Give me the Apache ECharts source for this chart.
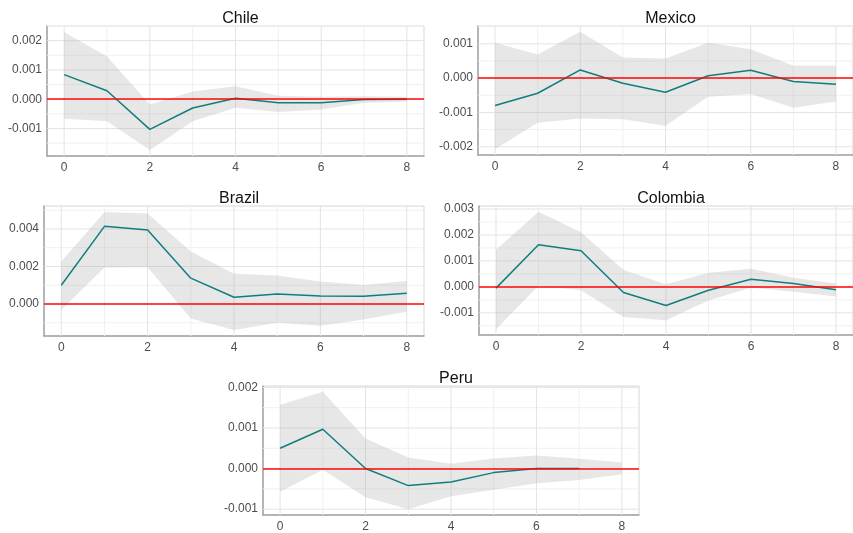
<!DOCTYPE html>
<html>
<head>
<meta charset="utf-8">
<script src="https://cdn.jsdelivr.net/npm/echarts@6/dist/echarts.min.js"></script>
<style>
  html, body { margin: 0; padding: 0; background: #ffffff; }
  #chart { width: 853px; height: 533px; }
</style>
</head>
<body>
<div id="chart"></div>
<script>
// Impulse responses by horizon with confidence bands
const horizons = [0, 1, 2, 3, 4, 5, 6, 7, 8];
const xTicks = [0, 2, 4, 6, 8];

const chileIrf   = [0.00084, 0.00029, -0.00103, -0.00030, 0.00003, -0.00012, -0.00012, -0.00001, 0.00000];
const chileUpper = [0.00230, 0.00146, -0.00018, 0.00026, 0.00044, 0.00012, 0.00008, 0.00010, 0.00008];
const chileLower = [-0.00067, -0.00075, -0.00174, -0.00075, -0.00029, -0.00044, -0.00035, -0.00012, -0.00009];
const chileTicks = [-0.001, 0.000, 0.001, 0.002];

const mexicoIrf   = [-0.00080, -0.00044, 0.00024, -0.00015, -0.00041, 0.00007, 0.00023, -0.00010, -0.00018];
const mexicoUpper = [0.00103, 0.00069, 0.00135, 0.00060, 0.00057, 0.00103, 0.00084, 0.00036, 0.00036];
const mexicoLower = [-0.00207, -0.00130, -0.00118, -0.00120, -0.00139, -0.00054, -0.00046, -0.00086, -0.00068];
const mexicoTicks = [-0.002, -0.001, 0.000, 0.001];

const brazilIrf   = [0.00100, 0.00414, 0.00395, 0.00138, 0.00036, 0.00054, 0.00043, 0.00041, 0.00057];
const brazilUpper = [0.00227, 0.00491, 0.00482, 0.00280, 0.00161, 0.00152, 0.00120, 0.00102, 0.00123];
const brazilLower = [-0.00032, 0.00195, 0.00196, -0.00077, -0.00139, -0.00100, -0.00116, -0.00082, -0.00041];
const brazilTicks = [0.000, 0.002, 0.004];

const colombiaIrf   = [-0.00005, 0.00162, 0.00139, -0.00022, -0.00072, -0.00013, 0.00029, 0.00013, -0.00011];
const colombiaUpper = [0.00143, 0.00289, 0.00210, 0.00065, 0.00010, 0.00054, 0.00070, 0.00035, 0.00013];
const colombiaLower = [-0.00163, 0.00004, -0.00013, -0.00116, -0.00129, -0.00053, -0.00003, -0.00019, -0.00037];
const colombiaTicks = [-0.001, 0.000, 0.001, 0.002, 0.003];

const peruIrf   = [0.00050, 0.00097, 0.00000, -0.00042, -0.00033, -0.00010, 0.00000, 0.00000, null];
const peruUpper = [0.00157, 0.00189, 0.00074, 0.00027, 0.00012, 0.00025, 0.00032, 0.00024, 0.00015];
const peruLower = [-0.00057, -0.00003, -0.00071, -0.00100, -0.00068, -0.00052, -0.00036, -0.00028, -0.00014];
const peruTicks = [-0.001, 0.000, 0.001, 0.002];

const panels = [
  { name: 'Chile',    irf: chileIrf,    upper: chileUpper,    lower: chileLower,    yTicks: chileTicks },
  { name: 'Mexico',   irf: mexicoIrf,   upper: mexicoUpper,   lower: mexicoLower,   yTicks: mexicoTicks },
  { name: 'Brazil',   irf: brazilIrf,   upper: brazilUpper,   lower: brazilLower,   yTicks: brazilTicks },
  { name: 'Colombia', irf: colombiaIrf, upper: colombiaUpper, lower: colombiaLower, yTicks: colombiaTicks },
  { name: 'Peru',     irf: peruIrf,     upper: peruUpper,     lower: peruLower,     yTicks: peruTicks }
];

// panel placement on the page
const boxes = [
  { left: 47,  top: 26,  width: 377, height: 130 },
  { left: 478, top: 26,  width: 375, height: 129 },
  { left: 44,  top: 206, width: 380, height: 130 },
  { left: 479, top: 206, width: 374, height: 129 },
  { left: 263, top: 386, width: 376, height: 129 }
];

const FONT = "'Liberation Sans', Arial, sans-serif";
const LINE = '#127d7d';
const BAND = 'rgba(175,175,175,0.3)';
const ZERO = 'rgba(255,0,0,0.72)';
const MAJOR = '#e3e3e3';
const MINOR = '#f0f0f0';

const option = {
  animation: false,
  backgroundColor: '#ffffff',
  title: [], grid: [], xAxis: [], yAxis: [], series: []
};

panels.forEach((p, i) => {
  const b = boxes[i];
  // y range: band extent padded by 5% on both sides
  const vals = p.irf.filter(v => v !== null);
  const hi = Math.max(...p.upper, ...vals);
  const lo = Math.min(...p.lower, ...vals);
  const pad = (hi - lo) * 0.05;
  const yMin = lo - pad, yMax = hi + pad;
  const xMin = -0.4, xMax = 8.4;

  // minor grid positions halfway between major ticks
  const step = p.yTicks[1] - p.yTicks[0];
  const yMinor = [];
  for (let k = -1; k < p.yTicks.length; k++) {
    const v = p.yTicks[0] + (k + 0.5) * step;
    if (v > yMin && v < yMax) yMinor.push(v);
  }
  const xMinor = [1, 3, 5, 7];

  option.title.push({
    text: p.name,
    left: b.left + b.width / 2,
    top: b.top - 20,
    textAlign: 'center',
    textStyle: { fontFamily: FONT, fontSize: 16, fontWeight: 'normal', color: '#111111' }
  });

  option.grid.push({
    left: b.left, top: b.top, width: b.width, height: b.height,
    show: true, borderColor: '#d6d6d6', borderWidth: 1, backgroundColor: 'transparent'
  });

  option.xAxis.push({
    type: 'value', gridIndex: i, min: xMin, max: xMax,
    axisLine: { show: true, onZero: false, lineStyle: { color: '#a3a3a3', width: 1.5 } },
    axisTick: { show: false },
    splitLine: { show: false },
    axisLabel: {
      customValues: xTicks, margin: 6,
      fontFamily: FONT, fontSize: 12, color: '#4d4d4d',
      formatter: v => String(v)
    }
  });

  option.yAxis.push({
    type: 'value', gridIndex: i, min: yMin, max: yMax,
    axisLine: { show: true, onZero: false, lineStyle: { color: '#a3a3a3', width: 1.5 } },
    axisTick: { show: false },
    splitLine: { show: false },
    axisLabel: {
      customValues: p.yTicks, margin: 5,
      fontFamily: FONT, fontSize: 12, color: '#4d4d4d',
      formatter: v => v.toFixed(3)
    }
  });

  // panel grid lines: each item is [x, y, horizontal?, major?]
  const gridItems = []
    .concat(yMinor.map(v => [0, v, 1, 0]))
    .concat(xMinor.map(v => [v, 0, 0, 0]))
    .concat(p.yTicks.map(v => [0, v, 1, 1]))
    .concat(xTicks.map(v => [v, 0, 0, 1]));
  option.series.push({
    type: 'custom', xAxisIndex: i, yAxisIndex: i, z: 1, silent: true,
    data: gridItems,
    encode: { x: 0, y: 1 },
    clip: false,
    renderItem: (params, api) => {
      const cs = params.coordSys;
      const pt = api.coord([api.value(0), api.value(1)]);
      const horizontal = api.value(2) === 1;
      const color = api.value(3) === 1 ? MAJOR : MINOR;
      const shape = horizontal
        ? { x1: cs.x, y1: pt[1], x2: cs.x + cs.width, y2: pt[1] }
        : { x1: pt[0], y1: cs.y, x2: pt[0], y2: cs.y + cs.height };
      return { type: 'line', shape: shape, style: { stroke: color, lineWidth: 1 } };
    }
  });

  // confidence band as one polygon: upper edge forward, lower edge back
  option.series.push({
    type: 'custom', xAxisIndex: i, yAxisIndex: i, z: 2, silent: true,
    data: horizons.map((h, k) => [h, p.lower[k], p.upper[k]]),
    encode: { x: 0, y: [1, 2] },
    renderItem: (params, api) => {
      if (params.dataIndex !== 0) return null;
      const topEdge = horizons.map((h, k) => api.coord([h, p.upper[k]]));
      const lowEdge = horizons.map((h, k) => api.coord([h, p.lower[k]])).reverse();
      return {
        type: 'polygon',
        shape: { points: topEdge.concat(lowEdge) },
        style: { fill: BAND, stroke: null }
      };
    }
  });

  // impulse response
  option.series.push({
    type: 'line', xAxisIndex: i, yAxisIndex: i, z: 3,
    data: horizons.map((h, k) => [h, p.irf[k]]),
    symbol: 'none', silent: true,
    lineStyle: { color: LINE, width: 1.5 }
  });

  // zero reference line on top
  option.series.push({
    type: 'line', xAxisIndex: i, yAxisIndex: i, z: 4,
    data: horizons.map(h => [h, 0]),
    symbol: 'none', silent: true, lineStyle: { opacity: 0 },
    markLine: {
      z: 6, silent: true, symbol: ['none', 'none'],
      label: { show: false }, emphasis: { disabled: true },
      data: [{ yAxis: 0, lineStyle: { color: ZERO, width: 2, type: 'solid' } }]
    }
  });
});

const chart = echarts.init(document.getElementById('chart'), null, { renderer: 'canvas' });
chart.setOption(option);
</script>
</body>
</html>
